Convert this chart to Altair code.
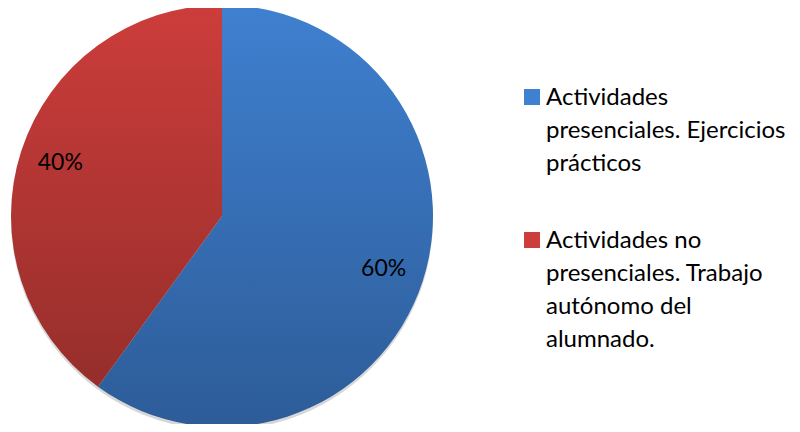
import altair as alt
import pandas as pd

categories = [
    "Actividades presenciales. Ejercicios prácticos",
    "Actividades no presenciales. Trabajo autónomo del alumnado.",
]
values = [60, 40]
pct_labels = ["60%", "40%"]
legend_lines = [
    ["Actividades", "presenciales. Ejercicios", "prácticos"],
    ["Actividades no", "presenciales. Trabajo", "autónomo del", "alumnado."],
]

start, acc = [], 0
for v in values:
    start.append(acc)
    acc += v
df = pd.DataFrame({
    "category": categories,
    "value": values,
    "start": start,
    "end": [s + v for s, v in zip(start, values)],
    "mid": [s + v / 2 for s, v in zip(start, values)],
    "pct": pct_labels,
    "legend": ["\n".join(l) for l in legend_lines],
})

FONT = "Lato"
CX, CY, R = 214, 208, 211
theta_scale = alt.Scale(domain=[0, sum(values)], range=[0, 6.283185307])

def grad(top, bottom):
    return alt.Gradient(
        gradient="linear",
        stops=[alt.GradientStop(offset=0, color=top), alt.GradientStop(offset=1, color=bottom)],
        x1=0, x2=0, y1=0, y2=1,
    )

slice_colors = [("#3f80d0", "#2d5c98"), ("#cc3d3b", "#962e2b")]

base = alt.Chart(df)

shadow = alt.Chart(df).transform_filter(alt.datum.value == values[0]).mark_arc(
    theta=0, theta2=6.283185307, radius=R, color="#bdbdbd", opacity=0.6
).encode(x=alt.value(CX), y=alt.value(CY + 3))

slices = []
for cat, (top, bot) in zip(categories, slice_colors):
    slices.append(
        base.transform_filter(alt.datum.category == cat)
        .mark_arc(radius=R, color=grad(top, bot), stroke=None)
        .encode(
            theta=alt.Theta("start:Q", scale=theta_scale),
            theta2="end:Q",
            x=alt.value(CX),
            y=alt.value(CY),
        )
    )

labels = base.mark_text(radius=170, font=FONT, fontSize=23, color="#000000").encode(
    theta=alt.Theta("mid:Q", scale=theta_scale),
    text="pct:N",
    x=alt.value(CX),
    y=alt.value(CY),
)

legend_y = alt.Y(
    "category:N", axis=None,
    scale=alt.Scale(type="point", domain=categories, range=[89, 232], padding=0),
)
legend_color = alt.Color(
    "category:N",
    scale=alt.Scale(domain=categories, range=[c[0] for c in slice_colors]),
    legend=None,
)

leg_sq = base.mark_square(size=256, opacity=1).encode(
    x=alt.value(524), y=legend_y, color=legend_color
)
leg_txt = base.mark_text(
    align="left", baseline="alphabetic", dy=8, font=FONT, fontSize=24,
    lineBreak="\n", lineHeight=33, color="#000000",
).encode(x=alt.value(538), y=legend_y, text="legend:N")

chart = alt.layer(shadow, *slices, labels, leg_sq, leg_txt).properties(
    width=784, height=416, autosize=alt.AutoSizeParams(type="none"), padding=0
).configure_view(stroke=None)

chart.save("out.html", embed_options={"renderer": "svg", "actions": False})
